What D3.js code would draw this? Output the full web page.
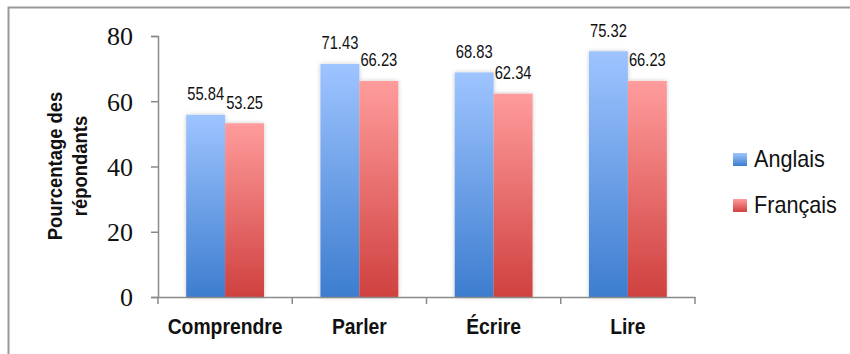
<!DOCTYPE html>
<html>
<head>
<meta charset="utf-8">
<script src="https://cdn.jsdelivr.net/npm/d3@7"></script>
<style>
  html, body { margin: 0; padding: 0; background: #fff; }
  svg { display: block; }
</style>
</head>
<body>
<div id="chart"></div>
<script>
// Skills and the share of respondents per language
const categories = ["Comprendre", "Parler", "Écrire", "Lire"];
const seriesNames = ["Anglais", "Français"];
const anglais = [55.84, 71.43, 68.83, 75.32];
const francais = [53.25, 66.23, 62.34, 66.23];
const yTicks = [0, 20, 40, 60, 80];
const yTitleLines = ["Pourcentage des", "répondants"];

const W = 850, H = 354;
const margin = { left: 158, right: 155, top: 36, bottom: 57 };

const svg = d3.select("#chart").append("svg")
  .attr("width", W).attr("height", H);

const defs = svg.append("defs");
function gradient(id, top, bottom) {
  const g = defs.append("linearGradient").attr("id", id)
    .attr("x1", 0).attr("y1", 0).attr("x2", 0).attr("y2", 1);
  g.append("stop").attr("offset", "0%").attr("stop-color", top);
  g.append("stop").attr("offset", "100%").attr("stop-color", bottom);
}
gradient("gBlue", "#9ec4ff", "#3d7dcf");
gradient("gRed", "#ff9c9c", "#cf413f");
const shadow = defs.append("filter").attr("id", "barShadow")
  .attr("x", "-30%").attr("y", "-10%").attr("width", "160%").attr("height", "120%");
shadow.append("feDropShadow").attr("dx", 0).attr("dy", 0)
  .attr("stdDeviation", 2).attr("flood-color", "#000").attr("flood-opacity", 0.22);

const fills = ["url(#gBlue)", "url(#gRed)"];
const values = [anglais, francais];

// Outer frame (top and left edges visible)
svg.append("path")
  .attr("d", `M8.5,${H} L8.5,7.5 L${W},7.5`)
  .attr("fill", "none").attr("stroke", "#9a9a9a").attr("stroke-width", 2);

const x0 = d3.scaleBand().domain(categories)
  .range([margin.left, W - margin.right]).padding(0);
const x1 = d3.scaleBand().domain(seriesNames)
  .range([x0.bandwidth() * 0.21, x0.bandwidth() * 0.79]).padding(0);
const y = d3.scaleLinear().domain([0, 80]).range([H - margin.bottom, margin.top]);

// Bars
categories.forEach((c, i) => {
  const g = svg.append("g").attr("transform", `translate(${x0(c)},0)`)
    .attr("filter", "url(#barShadow)");
  seriesNames.forEach((s, j) => {
    g.append("rect")
      .attr("x", x1(s))
      .attr("y", y(values[j][i]))
      .attr("width", x1.bandwidth())
      .attr("height", y(0) - y(values[j][i]))
      .attr("fill", fills[j]);
  });
});

// Value labels
categories.forEach((c, i) => {
  seriesNames.forEach((s, j) => {
    const cx = x0(c) + x1(s) + x1.bandwidth() / 2;
    svg.append("text")
      .attr("transform", `translate(${cx},${y(values[j][i]) - 14.5}) scale(0.82,1)`)
      .attr("text-anchor", "middle")
      .attr("font-family", "Liberation Sans, Arial, sans-serif")
      .attr("font-size", 18)
      .attr("fill", "#111")
      .text(values[j][i].toFixed(2));
  });
});

// Y axis
const yAxis = svg.append("g")
  .attr("transform", `translate(${margin.left},0)`)
  .call(d3.axisLeft(y).tickValues(yTicks).tickSize(7).tickPadding(0).tickFormat(d3.format("d")));
yAxis.select(".domain").attr("stroke", "#8a8a8a").attr("stroke-width", 1.5);
yAxis.selectAll(".tick line").attr("stroke", "#8a8a8a").attr("stroke-width", 1.5);
yAxis.selectAll(".tick text")
  .attr("x", -25)
  .attr("dy", "0.34em")
  .attr("font-family", "Liberation Serif, Times New Roman, serif")
  .attr("font-size", 26)
  .attr("fill", "#111");

// X axis
const xAxis = svg.append("g")
  .attr("transform", `translate(0,${y(0)})`)
  .call(d3.axisBottom(x0).tickSize(0).tickFormat(""));
xAxis.select(".domain").attr("stroke", "#8a8a8a").attr("stroke-width", 1.5);
xAxis.selectAll(".tick").remove();
const boundaries = categories.map(c => x0(c)).concat([x0(categories[categories.length - 1]) + x0.bandwidth()]);
xAxis.selectAll("line.sep").data(boundaries).enter().append("line")
  .attr("x1", d => d).attr("x2", d => d)
  .attr("y1", 0).attr("y2", 7)
  .attr("stroke", "#8a8a8a").attr("stroke-width", 1.5);

// Category labels
categories.forEach(c => {
  svg.append("text")
    .attr("transform", `translate(${x0(c) + x0.bandwidth() / 2},334) scale(0.86,1)`)
    .attr("text-anchor", "middle")
    .attr("font-family", "Liberation Sans, Arial, sans-serif")
    .attr("font-weight", "bold")
    .attr("font-size", 22.5)
    .attr("fill", "#111")
    .text(c);
});

// Y axis title
yTitleLines.forEach((line, k) => {
  svg.append("text")
    .attr("transform", `translate(${62 + k * 25},166) rotate(-90) scale(0.9,1)`)
    .attr("text-anchor", "middle")
    .attr("font-family", "Liberation Sans, Arial, sans-serif")
    .attr("font-weight", "bold")
    .attr("font-size", 20.5)
    .attr("fill", "#111")
    .text(line);
});

// Legend
const legend = svg.append("g");
seriesNames.forEach((s, j) => {
  const ly = 159 + j * 46;
  legend.append("rect")
    .attr("x", 733).attr("y", ly - 6)
    .attr("width", 14).attr("height", 13)
    .attr("fill", fills[j]);
  legend.append("text")
    .attr("transform", `translate(754,${ly + 8}) scale(0.94,1)`)
    .attr("font-family", "Liberation Sans, Arial, sans-serif")
    .attr("font-size", 23)
    .attr("fill", "#111")
    .text(s);
});
</script>
</body>
</html>
